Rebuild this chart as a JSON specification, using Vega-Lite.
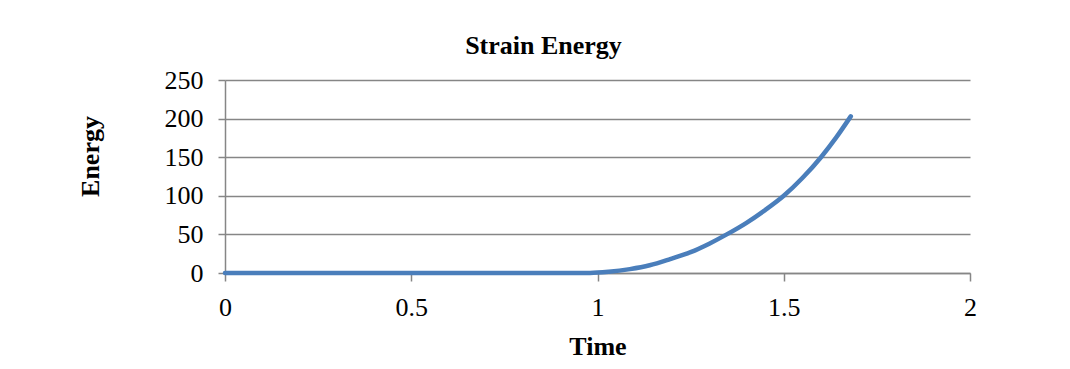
{
  "$schema": "https://vega.github.io/schema/vega-lite/v6.json",
  "autosize": {"type": "none"},
  "width": 745,
  "height": 193,
  "padding": {"left": 225, "top": 80, "right": 100, "bottom": 96},
  "background": "white",
  "title": {
    "text": "Strain Energy",
    "font": "Liberation Serif",
    "fontSize": 26,
    "fontWeight": "bold",
    "color": "#000000",
    "anchor": "middle",
    "dx": -54,
    "dy": 36,
    "baseline": "alphabetic",
    "offset": 23
  },
  "data": {
    "values": [
      {"t": 0, "e": 0},
      {"t": 0.25, "e": 0},
      {"t": 0.5, "e": 0},
      {"t": 0.75, "e": 0},
      {"t": 0.98, "e": 0},
      {"t": 1.03, "e": 1.5},
      {"t": 1.087, "e": 5},
      {"t": 1.14, "e": 10},
      {"t": 1.195, "e": 18},
      {"t": 1.25, "e": 27},
      {"t": 1.3, "e": 38},
      {"t": 1.347, "e": 50},
      {"t": 1.4, "e": 65},
      {"t": 1.45, "e": 81.5},
      {"t": 1.5, "e": 100},
      {"t": 1.55, "e": 123},
      {"t": 1.6, "e": 150},
      {"t": 1.64, "e": 175},
      {"t": 1.68, "e": 203}
    ]
  },
  "mark": {"type": "line", "color": "#4a7ebb", "strokeWidth": 4.5, "strokeCap": "round", "strokeJoin": "round", "interpolate": "monotone"},
  "encoding": {
    "x": {
      "field": "t",
      "type": "quantitative",
      "scale": {"domain": [0, 2], "nice": false, "zero": false},
      "axis": {
        "values": [0, 0.5, 1, 1.5, 2],
        "format": "~g",
        "grid": false,
        "title": "Time",
        "titleFont": "Liberation Serif",
        "titleFontSize": 26,
        "titleFontWeight": "bold",
        "titleColor": "#000000",
        "titleX": 372.5,
        "titleY": 73,
        "titleAlign": "center",
        "titleBaseline": "middle",
        "labelFont": "Liberation Serif",
        "labelFontSize": 26,
        "labelColor": "#000000",
        "labelPadding": 13,
        "labelFlush": false,
        "labelOverlap": false,
        "tickSize": 8,
        "tickColor": "#868686",
        "tickWidth": 1.5,
        "domainColor": "#868686",
        "domainWidth": 1.5
      }
    },
    "y": {
      "field": "e",
      "type": "quantitative",
      "scale": {"domain": [0, 250], "nice": false},
      "axis": {
        "values": [0, 50, 100, 150, 200, 250],
        "grid": true,
        "gridColor": "#868686",
        "gridWidth": 1.5,
        "title": "Energy",
        "titleFont": "Liberation Serif",
        "titleFontSize": 26,
        "titleFontWeight": "bold",
        "titleColor": "#000000",
        "titleAngle": -90,
        "titleX": -135,
        "titleY": 76,
        "titleAlign": "center",
        "titleBaseline": "middle",
        "labelFont": "Liberation Serif",
        "labelFontSize": 26,
        "labelColor": "#000000",
        "labelPadding": 15,
        "labelFlush": false,
        "labelOverlap": false,
        "tickSize": 7,
        "tickColor": "#868686",
        "tickWidth": 1.5,
        "domainColor": "#868686",
        "domainWidth": 1.5
      }
    }
  },
  "config": {"view": {"stroke": null}}
}
